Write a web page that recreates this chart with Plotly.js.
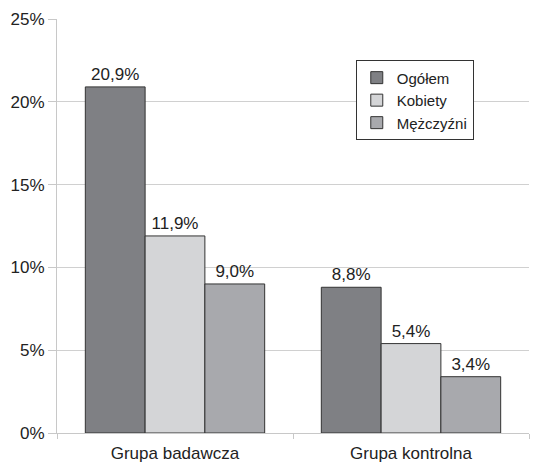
<!DOCTYPE html>
<html>
<head>
<meta charset="utf-8">
<script src="https://cdn.plot.ly/plotly-3.0.1.min.js"></script>
<style>
  html, body { margin: 0; padding: 0; background: #fff; }
  #chart { width: 534px; height: 463px; }
</style>
</head>
<body>
<div id="chart"></div>
<script>
// Groups and percentages per series
const groups = ["Grupa badawcza", "Grupa kontrolna"];
const seriesNames = ["Ogółem", "Kobiety", "Mężczyźni"];
const ogolem = [20.9, 8.8];
const kobiety = [11.9, 5.4];
const mezczyzni = [9.0, 3.4];
const yTicks = [0, 5, 10, 15, 20, 25];

const fills = ["#7f8084", "#d4d5d7", "#a8a9ad"];
const values = [ogolem, kobiety, mezczyzni];
const FONT = "Liberation Sans";

const traces = values.map((v, i) => ({
  type: "bar",
  name: seriesNames[i],
  x: groups,
  y: v,
  texttemplate: "%{y:.1f}%",
  textposition: "outside",
  cliponaxis: false,
  textfont: { family: FONT, size: 17, color: "#222" },
  marker: { color: fills[i], line: { color: "#333", width: 1 } },
  hoverinfo: "skip"
}));

const layout = {
  width: 534,
  height: 463,
  margin: { l: 57, r: 5, t: 19, b: 30 },
  paper_bgcolor: "#fff",
  plot_bgcolor: "#fff",
  separators: ",.",
  barmode: "group",
  bargap: 0.24,
  bargroupgap: 0,
  font: { family: FONT, color: "#222" },
  showlegend: true,
  legend: {
    x: 0.633, y: 0.90, xanchor: "left", yanchor: "top",
    bgcolor: "#fff",
    bordercolor: "#333",
    borderwidth: 1,
    font: { family: FONT, size: 15, color: "#222" },
    tracegroupgap: 0,
    itemwidth: 30
  },
  xaxis: {
    type: "category",
    showgrid: false,
    showline: true,
    linecolor: "#c8c8c8",
    linewidth: 1,
    ticks: "outside",
    tickson: "boundaries",
    ticklen: 5,
    tickcolor: "#c8c8c8",
    ticklabelstandoff: 5,
    tickfont: { family: FONT, size: 17, color: "#222" },
    fixedrange: true
  },
  yaxis: {
    range: [0, 25],
    tickvals: yTicks,
    ticktext: yTicks.map(t => t + "%"),
    showgrid: true,
    gridcolor: "#d0d0d0",
    gridwidth: 1,
    zeroline: false,
    showline: true,
    linecolor: "#c8c8c8",
    ticks: "outside",
    ticklen: 8,
    tickcolor: "#c8c8c8",
    tickfont: { family: FONT, size: 17, color: "#222" },
    fixedrange: true
  }
};

Plotly.newPlot("chart", traces, layout, { displayModeBar: false, staticPlot: true });
</script>
</body>
</html>
